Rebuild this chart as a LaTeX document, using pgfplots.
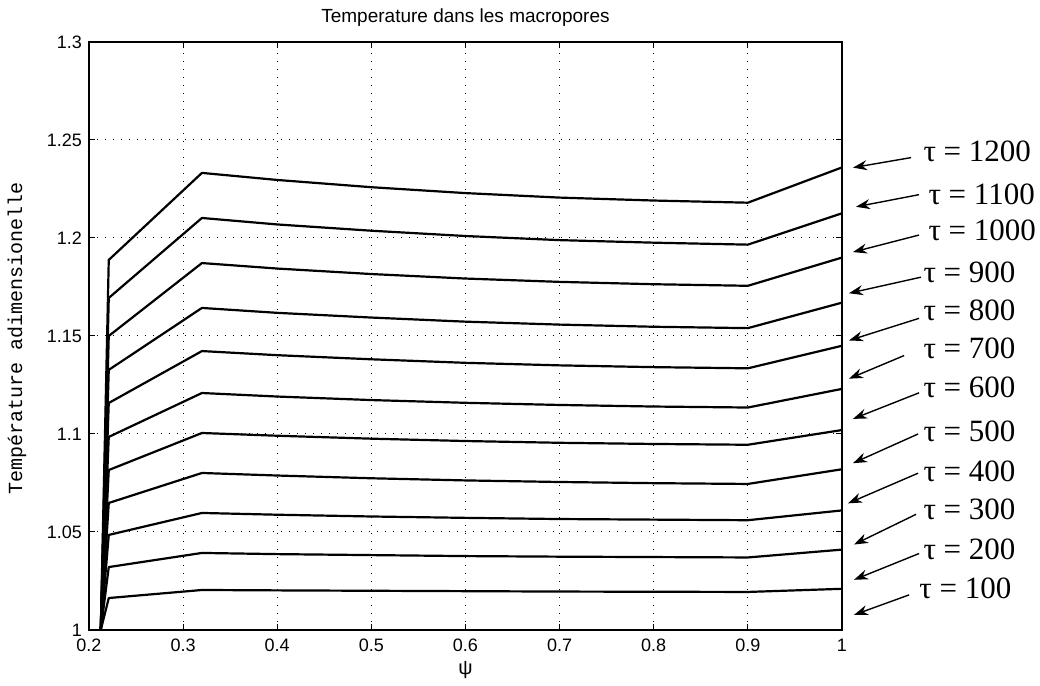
\documentclass[border=0pt]{standalone}
\usepackage{fontspec}
\setmainfont{Liberation Sans}
\newfontfamily\tmono{Liberation Mono}
\newfontfamily\tserif{Liberation Serif}
\usepackage{pgfplots}
\pgfplotsset{compat=1.18}
\usetikzlibrary{arrows.meta}
\begin{document}
\begin{tikzpicture}
\begin{axis}[
  scale only axis,
  width=376.5pt, height=294pt,
  xmin=0.2, xmax=1, ymin=1, ymax=1.3,
  xtick={0.2,0.3,0.4,0.5,0.6,0.7,0.8,0.9,1},
  xticklabels={0.2,0.3,0.4,0.5,0.6,0.7,0.8,0.9,1},
  ytick={1,1.05,1.1,1.15,1.2,1.25,1.3},
  yticklabels={1,1.05,1.1,1.15,1.2,1.25,1.3},
  tick align=inside, major tick length=3pt,
  tick style={black, line width=0.5pt},
  grid=major,
  grid style={black, line width=0.5pt, dash pattern=on 0.5pt off 3.5pt},
  axis line style={line width=0.8pt},
  ticklabel style={font=\fontsize{9}{10}\selectfont},
  xticklabel style={yshift=-1pt},
  /pgf/number format/assume math mode=true,
  clip=false,
  cycle list={{black, solid}},
  every axis plot/.append style={line width=1.1pt, line join=round},
  no markers,
  title={Temperature dans les macropores},
  every axis title/.style={at={(rel axis cs:0.5,1.041)}, anchor=center, font=\fontsize{9.5}{11}\selectfont},
  xlabel={ψ},
  every axis x label/.style={at={(rel axis cs:0.5,-0.068)}, anchor=center, font=\fontsize{10}{12}\selectfont},
  ylabel={\tmono Température adimensionelle},
  every axis y label/.style={at={(rel axis cs:-0.0956,0.4966)}, rotate=90, anchor=center, font=\fontsize{10}{12}\selectfont},
]
% tau curves (bottom to top)
\addplot coordinates {(0.2125,1) (0.221,1.0163) (0.32,1.0204) (0.4,1.0202) (0.5,1.0200) (0.6,1.0198) (0.7,1.0196) (0.8,1.0195) (0.9,1.0194) (1,1.0210)};
\addplot coordinates {(0.2125,1) (0.221,1.0321) (0.32,1.0393) (0.4,1.0387) (0.5,1.0382) (0.6,1.0377) (0.7,1.0374) (0.8,1.0372) (0.9,1.0370) (1,1.0410)};
\addplot coordinates {(0.2125,1) (0.221,1.0485) (0.32,1.0597) (0.4,1.0588) (0.5,1.0579) (0.6,1.0572) (0.7,1.0566) (0.8,1.0563) (0.9,1.0560) (1,1.0610)};
\addplot coordinates {(0.2125,1) (0.221,1.0648) (0.32,1.0801) (0.4,1.0788) (0.5,1.0774) (0.6,1.0763) (0.7,1.0755) (0.8,1.0749) (0.9,1.0745) (1,1.0820)};
\addplot coordinates {(0.2125,1) (0.221,1.0816) (0.32,1.1005) (0.4,1.0991) (0.5,1.0976) (0.6,1.0964) (0.7,1.0955) (0.8,1.0949) (0.9,1.0945) (1,1.1020)};
\addplot coordinates {(0.2125,1) (0.221,1.0985) (0.32,1.1209) (0.4,1.1191) (0.5,1.1173) (0.6,1.1159) (0.7,1.1148) (0.8,1.1140) (0.9,1.1135) (1,1.1230)};
\addplot coordinates {(0.2125,1) (0.221,1.1158) (0.32,1.1423) (0.4,1.1402) (0.5,1.1381) (0.6,1.1363) (0.7,1.1350) (0.8,1.1341) (0.9,1.1335) (1,1.1450)};
\addplot coordinates {(0.2125,1) (0.221,1.1327) (0.32,1.1643) (0.4,1.1618) (0.5,1.1594) (0.6,1.1573) (0.7,1.1558) (0.8,1.1547) (0.9,1.1540) (1,1.1670)};
\addplot coordinates {(0.2125,1) (0.221,1.1500) (0.32,1.1872) (0.4,1.1844) (0.5,1.1816) (0.6,1.1793) (0.7,1.1776) (0.8,1.1764) (0.9,1.1756) (1,1.1900)};
\addplot coordinates {(0.2125,1) (0.221,1.1694) (0.32,1.2102) (0.4,1.2069) (0.5,1.2037) (0.6,1.2010) (0.7,1.1989) (0.8,1.1976) (0.9,1.1966) (1,1.2126)};
\addplot coordinates {(0.2125,1) (0.221,1.1888) (0.32,1.2332) (0.4,1.2296) (0.5,1.2259) (0.6,1.2229) (0.7,1.2206) (0.8,1.2191) (0.9,1.2180) (1,1.2360)};
% annotations
\tikzset{tarr/.style={-{Stealth[length=7pt,width=5pt]}, line width=0.7pt, black},
         tlab/.style={anchor=west, inner sep=0pt, font=\tserif\fontsize{15.5}{17}\selectfont}}
\draw[tarr] (axis cs:1.0734,1.2410) -- (axis cs:1.0117,1.2359);
\draw[tarr] (axis cs:1.0819,1.2221) -- (axis cs:1.0149,1.2159);
\draw[tarr] (axis cs:1.0819,1.2015) -- (axis cs:1.0117,1.1928);
\draw[tarr] (axis cs:1.0840,1.1800) -- (axis cs:1.0074,1.1718);
\draw[tarr] (axis cs:1.0819,1.1590) -- (axis cs:1.0074,1.1477);
\draw[tarr] (axis cs:1.0660,1.1400) -- (axis cs:1.0074,1.1282);
\draw[tarr] (axis cs:1.0819,1.1210) -- (axis cs:1.0117,1.1077);
\draw[tarr] (axis cs:1.0809,1.1000) -- (axis cs:1.0117,1.0851);
\draw[tarr] (axis cs:1.0809,1.0800) -- (axis cs:1.0064,1.0646);
\draw[tarr] (axis cs:1.0787,1.0590) -- (axis cs:1.0128,1.0436);
\draw[tarr] (axis cs:1.0819,1.0390) -- (axis cs:1.0128,1.0256);
\draw[tarr] (axis cs:1.0713,1.0179) -- (axis cs:1.0128,1.0077);
\node[tlab] at (axis cs:1.0862,1.2441) {τ = 1200};
\node[tlab] at (axis cs:1.0915,1.2221) {τ = 1100};
\node[tlab] at (axis cs:1.0915,1.2041) {τ = 1000};
\node[tlab] at (axis cs:1.0862,1.1826) {τ = 900};
\node[tlab] at (axis cs:1.0862,1.1631) {τ = 800};
\node[tlab] at (axis cs:1.0862,1.1436) {τ = 700};
\node[tlab] at (axis cs:1.0862,1.1236) {τ = 600};
\node[tlab] at (axis cs:1.0862,1.1015) {τ = 500};
\node[tlab] at (axis cs:1.0862,1.0810) {τ = 400};
\node[tlab] at (axis cs:1.0862,1.0615) {τ = 300};
\node[tlab] at (axis cs:1.0862,1.0410) {τ = 200};
\node[tlab] at (axis cs:1.0819,1.0210) {τ = 100};
\path (rel axis cs:-0.1182,-0.0901) rectangle (rel axis cs:1.263,1.0714);
\end{axis}
\end{tikzpicture}
\end{document}
